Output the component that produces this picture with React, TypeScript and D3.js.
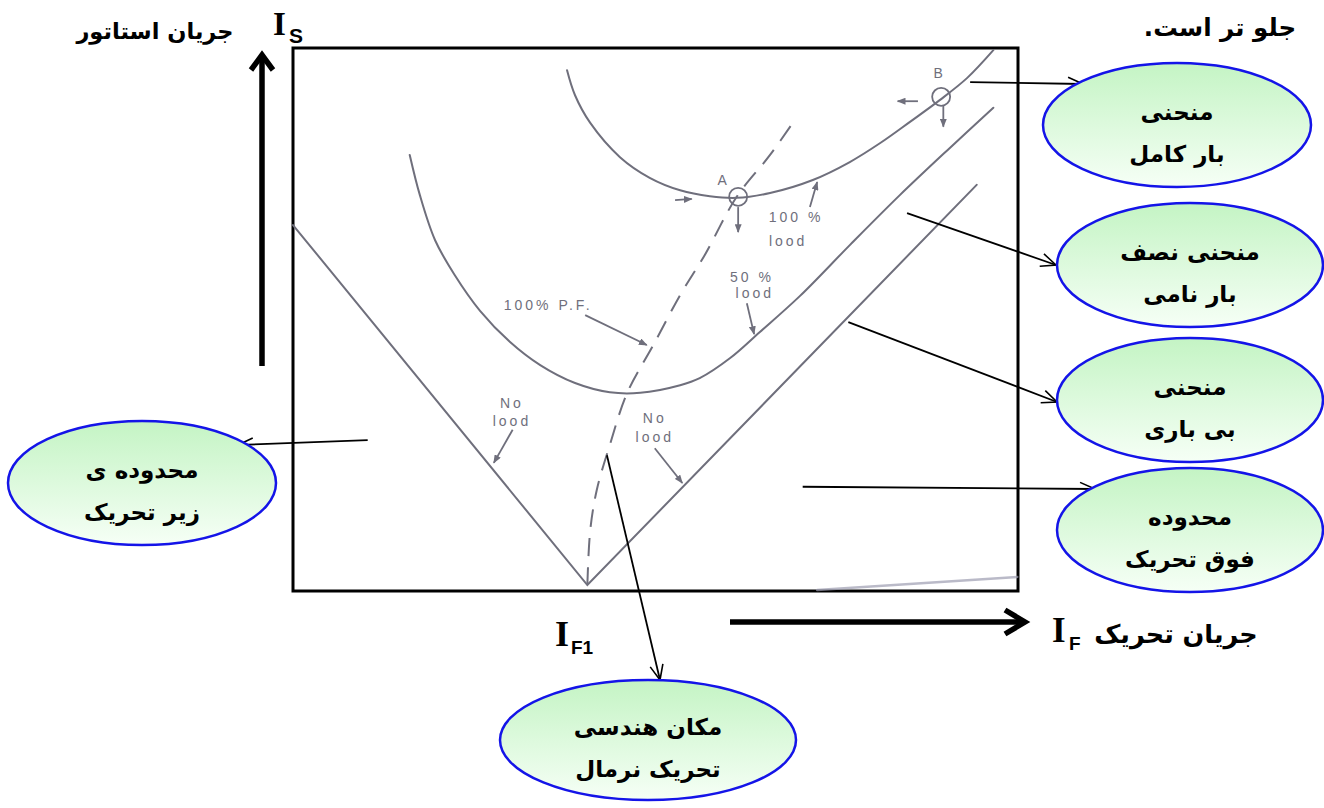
import React from 'react';
import * as d3 from 'd3';

// ---- data (field current vs stator current, arbitrary 0..100 units) ----
const noLoadCurve: [number, number][] = [
  [0, 67.4], [40.6, 1.1], [94.3, 74.8],
];
const halfLoadCurve: [number, number][] = [
  [16.1, 80.3], [17.5, 72.9], [19.6, 64.6], [22.3, 58.2], [25.8, 51.6], [29.9, 45.9],
  [34.1, 41.6], [38.9, 38.3], [43.7, 36.6], [47.9, 36.5], [53.4, 37.9], [56.1, 39.2],
  [60.3, 42.9], [64.4, 47.7], [69.9, 54.3], [76.8, 63.7], [83.7, 72.9], [90.6, 81.6], [96.6, 89.0],
];
const fullLoadCurve: [number, number][] = [
  [37.8, 95.9], [38.9, 91.3], [41.0, 86.2], [45.1, 79.9], [49.2, 76.1], [53.4, 73.8],
  [57.5, 72.7], [61.2, 72.4], [65.8, 73.3], [71.7, 75.7], [76.8, 79.0], [81.0, 82.5],
  [85.1, 86.4], [89.2, 90.4], [93.0, 94.5], [96.6, 99.6],
];
const unityPfLocus: [number, number][] = [
  [40.6, 1.1], [41.0, 11.2], [41.9, 18.6], [43.7, 26.9], [46.1, 36.5], [49.7, 45.3],
  [53.4, 54.5], [56.8, 61.9], [61.2, 72.6], [65.8, 80.3], [69.5, 87.3],
];
const baseTrace: [number, number][] = [[72.3, 0.2], [99.9, 2.6]];

const operatingPoints = [
  { name: 'A', x: 61.4, y: 72.6 },
  { name: 'B', x: 89.4, y: 91.0 },
];
const curveLabels = [
  { text: 'A', x: 59.4, y: 75.7 },
  { text: 'B', x: 89.2, y: 95.4 },
  { text: '100 %', x: 69.4, y: 68.9 },
  { text: 'lood', x: 68.3, y: 64.5 },
  { text: '50 %', x: 63.3, y: 57.8 },
  { text: 'lood', x: 63.7, y: 54.9 },
  { text: '100% P.F.', x: 35.2, y: 52.7 },
  { text: 'No', x: 30.2, y: 34.6 },
  { text: 'lood', x: 30.2, y: 31.3 },
  { text: 'No', x: 49.9, y: 31.9 },
  { text: 'lood', x: 49.9, y: 28.4 },
];
const pointerArrows: [number, number, number, number][] = [
  [71.3, 70.7, 72.3, 75.3],
  [62.6, 53.0, 63.6, 47.3],
  [40.3, 50.8, 48.8, 45.3],
  [30.3, 29.7, 27.7, 23.6],
  [49.9, 26.3, 53.7, 19.9],
  [61.4, 70.7, 61.4, 66.1],
  [52.7, 72.0, 55.0, 72.2],
  [86.2, 90.2, 83.4, 90.2],
  [89.7, 89.5, 89.7, 85.5],
];
// callout origins inside the chart (data units)
const calloutOrigins: [number, number][] = [
  [93.4, 93.7], [84.7, 69.6], [76.6, 49.5], [70.3, 19.2], [10.3, 27.8], [43.3, 25.0],
];
const bubbleTexts: [string, string][] = [
  ['منحنی', 'بار کامل'],
  ['منحنی نصف', 'بار نامی'],
  ['منحنی', 'بی باری'],
  ['محدوده', 'فوق تحریک'],
  ['محدوده ی', 'زیر تحریک'],
  ['مکان هندسی', 'تحریک نرمال'],
];
const axisTitleY = 'جریان استاتور';
const axisTitleX = 'جریان تحریک';
const headerText = 'جلو تر است.';

// ---- layout ----
const W = 1324, H = 808;
const plot = { left: 293, top: 48, right: 1018, bottom: 591 };
const bubbleLayout = [
  { cx: 1177, cy: 125, rx: 134, ry: 62, tip: [1083, 84] },
  { cx: 1190, cy: 265, rx: 133, ry: 62, tip: [1056, 265] },
  { cx: 1190, cy: 400, rx: 133, ry: 62, tip: [1057, 402] },
  { cx: 1190, cy: 530, rx: 133, ry: 62, tip: [1095, 489] },
  { cx: 142, cy: 483, rx: 134, ry: 62, tip: [238, 445] },
  { cx: 648, cy: 740, rx: 148, ry: 60, tip: [660, 680] },
];

const GRAY = '#6f6f7c';
const FA = "'DejaVu Sans', sans-serif";
const SERIF = "'Liberation Serif', 'Times New Roman', serif";
const SANS = "'Liberation Sans', Arial, sans-serif";

export default function App() {
  const x = d3.scaleLinear().domain([0, 100]).range([plot.left, plot.right]);
  const y = d3.scaleLinear().domain([0, 100]).range([plot.bottom, plot.top]);
  const smooth = d3.line<[number, number]>().x(d => x(d[0])).y(d => y(d[1])).curve(d3.curveCatmullRom.alpha(0.5));
  const straight = d3.line<[number, number]>().x(d => x(d[0])).y(d => y(d[1]));

  return (
    <div style={{ position: 'absolute', left: 0, top: 0 }}>
      <svg width={W} height={H} viewBox={`0 0 ${W} ${H}`} style={{ display: 'block', background: '#fff' }}>
        <defs>
          <linearGradient id="bubbleFill" x1="0" y1="0" x2="0" y2="1">
            <stop offset="0" stopColor="#c4f4c4" />
            <stop offset="1" stopColor="#f6fff6" />
          </linearGradient>
          <marker id="grayHead" viewBox="0 0 10 8" refX="9" refY="4" markerWidth="9" markerHeight="7" markerUnits="userSpaceOnUse" orient="auto">
            <path d="M0,0 L10,4 L0,8 z" fill={GRAY} />
          </marker>
          <marker id="openHead" viewBox="0 0 16 14" refX="15" refY="7" markerWidth="16" markerHeight="14" markerUnits="userSpaceOnUse" orient="auto" style={{ overflow: 'visible' }}>
            <path d="M0,0.5 L15,7 L0,13.5" fill="none" stroke="#000" strokeWidth={1.6} />
          </marker>
        </defs>

        {/* plot frame */}
        <rect x={plot.left} y={plot.top} width={plot.right - plot.left} height={plot.bottom - plot.top} fill="#fff" stroke="#000" strokeWidth={3} />

        {/* curves */}
        <g fill="none" stroke={GRAY} strokeWidth={2} strokeLinecap="round">
          <path d={straight(noLoadCurve) || ''} />
          <path d={smooth(halfLoadCurve) || ''} />
          <path d={smooth(fullLoadCurve) || ''} />
          <path d={smooth(unityPfLocus) || ''} strokeDasharray="18 11" strokeLinecap="butt" />
          <path d={straight(baseTrace) || ''} stroke="#9c9cb0" strokeWidth={2.5} opacity={0.7} />
        </g>

        {/* operating points */}
        {operatingPoints.map(p => (
          <circle key={p.name} cx={x(p.x)} cy={y(p.y)} r={9} fill="none" stroke={GRAY} strokeWidth={1.8} />
        ))}

        {/* pointer arrows */}
        <g stroke={GRAY} strokeWidth={1.8}>
          {pointerArrows.map((a, i) => (
            <line key={i} x1={x(a[0])} y1={y(a[1])} x2={x(a[2])} y2={y(a[3])} markerEnd="url(#grayHead)" />
          ))}
        </g>

        {/* curve labels */}
        <g fill={GRAY} fontFamily={SANS} fontSize={14} letterSpacing={3} textAnchor="middle" dominantBaseline="central">
          {curveLabels.map((l, i) => (
            <text key={i} x={x(l.x)} y={y(l.y)}>{l.text}</text>
          ))}
        </g>

        {/* callout arrows */}
        <g stroke="#000" strokeWidth={1.8}>
          {calloutOrigins.map((o, i) => (
            <line key={i} x1={x(o[0])} y1={y(o[1])} x2={bubbleLayout[i].tip[0]} y2={bubbleLayout[i].tip[1]} markerEnd="url(#openHead)" />
          ))}
        </g>

        {/* bubbles */}
        {bubbleTexts.map((t, i) => {
          const b = bubbleLayout[i];
          return (
            <g key={i}>
              <ellipse cx={b.cx} cy={b.cy} rx={b.rx} ry={b.ry} fill="url(#bubbleFill)" stroke="#1414e8" strokeWidth={2.5} />
              <text x={b.cx} y={b.cy - 5} textAnchor="middle" direction="rtl" fontFamily={FA} fontWeight="bold" fontSize={23} fill="#000">{t[0]}</text>
              <text x={b.cx} y={b.cy + 37} textAnchor="middle" direction="rtl" fontFamily={FA} fontWeight="bold" fontSize={23} fill="#000">{t[1]}</text>
            </g>
          );
        })}

        {/* thick axis arrows */}
        <g stroke="#000" fill="none" strokeWidth={5.5}>
          <line x1={262} y1={366} x2={262} y2={58} />
          <path d="M251,70 L262,55 L273,70" strokeLinejoin="miter" />
          <line x1={730} y1={622} x2={1022} y2={622} />
          <path d="M1005,610 L1025,622 L1005,634" strokeLinejoin="miter" />
        </g>

        {/* axis titles */}
        <text x={273} y={35} fontFamily={SERIF} fontWeight="bold" fontSize={33}>I</text>
        <text x={289} y={43} fontFamily={SANS} fontWeight="bold" fontSize={21}>S</text>
        <text x={155} y={39} textAnchor="middle" direction="rtl" fontFamily={FA} fontWeight="bold" fontSize={22.5}>{axisTitleY}</text>

        <text x={1220} y={36} textAnchor="middle" direction="rtl" fontFamily={FA} fontWeight="bold" fontSize={24.5}>{headerText}</text>

        <text x={555} y={646} fontFamily={SERIF} fontWeight="bold" fontSize={36}>I</text>
        <text x={571} y={654} fontFamily={SANS} fontWeight="bold" fontSize={19}>F1</text>

        <text x={1052} y={642} fontFamily={SERIF} fontWeight="bold" fontSize={35}>I</text>
        <text x={1069} y={650} fontFamily={SANS} fontWeight="bold" fontSize={19}>F</text>
        <text x={1176} y={643} textAnchor="middle" direction="rtl" fontFamily={FA} fontWeight="bold" fontSize={25.5}>{axisTitleX}</text>
      </svg>
    </div>
  );
}
